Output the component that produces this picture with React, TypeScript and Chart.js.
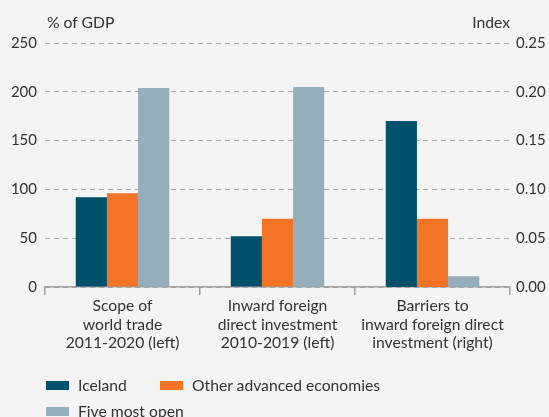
import React, { useEffect, useRef } from "react";
import { Chart, registerables } from "chart.js";

Chart.register(...registerables);

const categories: string[][] = [
  ["Scope of", "world trade", "2011-2020 (left)"],
  ["Inward foreign", "direct investment", "2010-2019 (left)"],
  ["Barriers to", "inward foreign direct", "investment (right)"],
];

const seriesNames = ["Iceland", "Other advanced economies", "Five most open"];
const seriesColors = ["#00506b", "#f37425", "#94aebc"];

// % of GDP (left axis); null where category uses right axis
const icelandLeft = [92, 52, null];
const otherLeft = [96, 70, null];
const fiveLeft = [204, 205, null];

// Index (right axis)
const icelandRight = [null, null, 0.17];
const otherRight = [null, null, 0.07];
const fiveRight = [null, null, 0.011];

const leftTicks = [0, 50, 100, 150, 200, 250];
const rightTicks = [0, 0.05, 0.1, 0.15, 0.2, 0.25];

const FONT = "Lato, 'Noto Sans', sans-serif";
const TEXT = "#333333";
const BG = "#f4f4f4";
const TXT_SIZE = 15.7;

export default function App() {
  const ref = useRef<HTMLCanvasElement | null>(null);

  useEffect(() => {
    if (!ref.current) return;
    const leftSeries = [icelandLeft, otherLeft, fiveLeft];
    const rightSeries = [icelandRight, otherRight, fiveRight];
    const datasets: any[] = [];
    leftSeries.forEach((d, i) =>
      datasets.push({
        label: seriesNames[i],
        data: d,
        yAxisID: "y",
        backgroundColor: seriesColors[i],
        borderWidth: 0,
      })
    );
    rightSeries.forEach((d, i) =>
      datasets.push({
        label: seriesNames[i] + " (right)",
        data: d,
        yAxisID: "y1",
        backgroundColor: seriesColors[i],
        borderWidth: 0,
      })
    );

    const chart = new Chart(ref.current, {
      type: "bar",
      data: { labels: categories as any, datasets },
      options: {
        animation: false,
        responsive: false,
        maintainAspectRatio: false,
        skipNull: true,
        categoryPercentage: 0.603,
        barPercentage: 1,
        layout: { padding: { top: 43, bottom: 0, left: 0, right: 0 } },
        plugins: {
          legend: { display: false },
          tooltip: { enabled: false },
        },
        scales: {
          x: {
            offset: true,
            grid: {
              display: true,
              drawOnChartArea: false,
              drawTicks: true,
              tickLength: 8,
              color: "#a0a0a0",
              lineWidth: 1.5,
            },
            border: { display: true, color: "#a0a0a0", width: 1.5 },
            ticks: {
              color: TEXT,
              padding: 2,
              maxRotation: 0,
              autoSkip: false,
              font: { family: FONT, size: TXT_SIZE, lineHeight: 1.18 },
            },
            afterFit: (s: any) => {
              s.height = 130;
            },
          },
          y: {
            position: "left",
            min: 0,
            max: 250,
            afterBuildTicks: (s: any) => {
              s.ticks = leftTicks.map((v) => ({ value: v }));
            },
            grid: {
              color: "#a8a8a8",
              lineWidth: 1,
              drawTicks: false,
            },
            border: { display: false, dash: [5, 4] },
            ticks: {
              color: TEXT,
              padding: 8,
              font: { family: FONT, size: 15 },
            },
            afterFit: (s: any) => {
              s.width = 45;
            },
          },
          y1: {
            position: "right",
            min: 0,
            max: 0.25,
            afterBuildTicks: (s: any) => {
              s.ticks = rightTicks.map((v) => ({ value: v }));
            },
            grid: { display: false, drawTicks: false },
            border: { display: false },
            ticks: {
              color: TEXT,
              padding: 6,
              font: { family: FONT, size: 15 },
              callback: (v: any) => Number(v).toFixed(2),
            },
            afterFit: (s: any) => {
              s.width = 39;
            },
          },
        },
      } as any,
    });
    return () => chart.destroy();
  }, []);

  const legendItem = (i: number, x: number, y: number) => (
    <div
      key={i}
      style={{
        position: "absolute",
        left: x,
        top: y,
        display: "flex",
        alignItems: "center",
        fontFamily: FONT,
        fontSize: TXT_SIZE,
        color: TEXT,
        whiteSpace: "nowrap",
        lineHeight: "18px",
      }}
    >
      <span
        style={{
          display: "inline-block",
          width: 23,
          height: 9,
          background: seriesColors[i],
          marginRight: 9,
        }}
      />
      <span>{seriesNames[i]}</span>
    </div>
  );

  return (
    <div
      style={{
        position: "absolute",
        left: 0,
        top: 0,
        width: 549,
        height: 417,
        background: BG,
        overflow: "hidden",
      }}
    >
      <canvas ref={ref} width={549} height={417} style={{ position: "absolute", left: 0, top: 0 }} />
      <div
        style={{
          position: "absolute",
          left: 47,
          top: 13,
          fontFamily: FONT,
          fontSize: TXT_SIZE,
          color: TEXT,
          whiteSpace: "nowrap",
        }}
      >
        % of GDP
      </div>
      <div
        style={{
          position: "absolute",
          right: 39,
          top: 13,
          fontFamily: FONT,
          fontSize: TXT_SIZE,
          color: TEXT,
          whiteSpace: "nowrap",
        }}
      >
        Index
      </div>
      {legendItem(0, 46, 376)}
      {legendItem(1, 160, 376)}
      {legendItem(2, 46, 402)}
    </div>
  );
}
